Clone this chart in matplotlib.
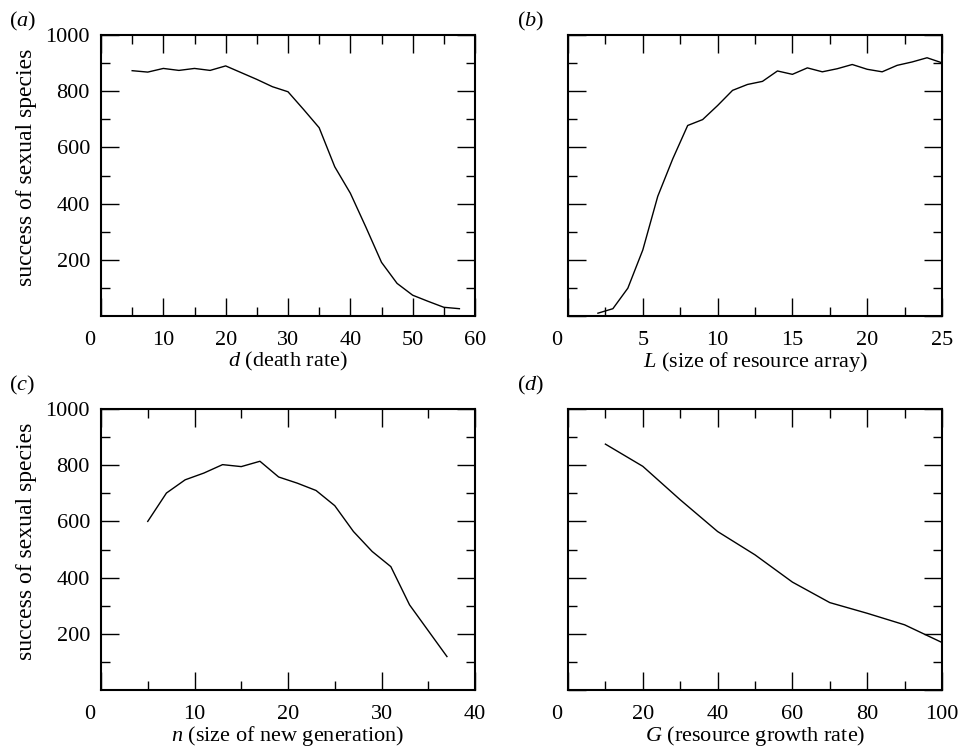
import matplotlib
matplotlib.use('Agg')
import matplotlib.pyplot as plt
from matplotlib.ticker import MultipleLocator, FuncFormatter

plt.rcParams['font.family'] = ['Liberation Serif', 'DejaVu Serif']
plt.rcParams['mathtext.fontset'] = 'custom'
plt.rcParams['mathtext.rm'] = 'Liberation Serif'
plt.rcParams['mathtext.it'] = 'Liberation Serif:italic'

# ---- data ----
death_rate = [5, 7.5, 10, 12.5, 15, 17.5, 20, 22.5, 25, 27.5, 30, 32.5, 35,
              37.5, 40, 42.5, 45, 47.5, 50, 52.5, 55, 57.5]
success_a = [873, 868, 881, 874, 881, 874, 890, 866, 842, 816, 798, 735, 670,
             531, 437, 316, 191, 116, 74, 52, 31, 26]

array_size = [2, 3, 4, 5, 6, 7, 8, 9, 10, 11, 12, 13, 14, 15, 16, 17, 18, 19,
              20, 21, 22, 23, 24, 25]
success_b = [10, 26, 99, 235, 426, 559, 678, 699, 749, 803, 824, 835, 872, 860,
             883, 869, 880, 895, 878, 869, 892, 904, 919, 901]

generation_size = [5, 7, 9, 11, 13, 15, 17, 19, 21, 23, 25, 27, 29, 31, 33, 35, 37]
success_c = [600, 701, 748, 772, 802, 795, 814, 758, 736, 710, 656, 564, 493,
             439, 303, 211, 119]

growth_rate = [10, 20, 30, 40, 50, 60, 70, 80, 90, 100]
success_d = [875, 796, 677, 564, 481, 384, 311, 273, 232, 169]

panel_letters = ['($a$)', '($b$)', '($c$)', '($d$)']
x_labels = [r'$d$ (death rate)', r'$L$ (size of resource array)',
            r'$n$ (size of new generation)', r'$G$ (resource growth rate)']
y_label = 'success of sexual species'
y_tick_values = [200, 400, 600, 800, 1000]

panels = [
    (death_rate, success_a, 60, 10, 5),
    (array_size, success_b, 25, 5, 2.5),
    (generation_size, success_c, 40, 10, 5),
    (growth_rate, success_d, 100, 20, 10),
]

W, H = 960, 751
fig = plt.figure(figsize=(W / 100, H / 100), dpi=100)

lefts = [101, 568, 101, 568]
tops = [35, 35, 409, 409]
aw, ah = 374, 281
letter_pos = [(9, 21), (517, 21), (9, 385), (517, 385)]

FS = 16
XPAD = 11


def xfmt(v, pos):
    if abs(v) < 1e-9:
        return ''
    return f'{v:g}'


for i, (xs, ys, xmax, xmaj, xmin) in enumerate(panels):
    l, t = lefts[i], tops[i]
    ax = fig.add_axes([l / W, 1 - (t + ah) / H, aw / W, ah / H])
    ax.plot(xs, ys, color='black', lw=1.0)
    ax.set_xlim(0, xmax)
    ax.set_ylim(0, 1000)
    ax.xaxis.set_major_locator(MultipleLocator(xmaj))
    ax.xaxis.set_minor_locator(MultipleLocator(xmin))
    ax.xaxis.set_major_formatter(FuncFormatter(xfmt))
    ax.yaxis.set_major_locator(MultipleLocator(200))
    ax.yaxis.set_minor_locator(MultipleLocator(100))
    ax.tick_params(which='both', direction='in', top=True, right=True,
                   width=1.0, labelsize=FS, color='black')
    ax.tick_params(which='major', length=13)
    ax.tick_params(which='minor', length=6.5)
    ax.tick_params(axis='x', pad=XPAD)
    ax.tick_params(axis='y', pad=8)
    for sp in ax.spines.values():
        sp.set_linewidth(1.5)
    ax.set_xlabel(x_labels[i], fontsize=FS, labelpad=0)
    # the shared origin label "0", set slightly left of the corner
    ax.annotate('0', xy=(0, 0), xycoords=('data', 'axes fraction'),
                xytext=(-11, -XPAD * 100 / 72), textcoords='offset pixels',
                ha='center', va='top', fontsize=FS)
    if i % 2 == 0:
        ax.set_ylabel(y_label, fontsize=17)
        ax.yaxis.set_label_coords(-0.172, 0.53)
        ax.set_yticks(y_tick_values)
        ax.set_yticks([100, 300, 500, 700, 900], minor=True)
    else:
        ax.set_yticklabels([])
    lx, ly = letter_pos[i]
    fig.text(lx / W, 1 - ly / H, panel_letters[i], fontsize=FS,
             ha='left', va='center')

fig.savefig('out.png', dpi=100)
